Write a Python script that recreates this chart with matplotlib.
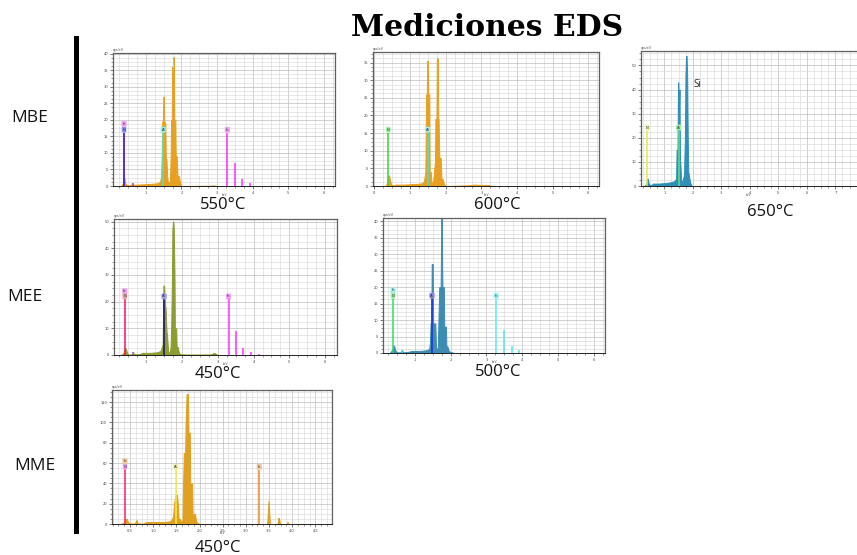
import matplotlib
matplotlib.use("Agg")
import matplotlib.pyplot as plt
from matplotlib.ticker import MultipleLocator, AutoMinorLocator, FormatStrFormatter

W, H = 857, 555

# ---- spectra (energy in keV, counts in cps/eV) ----
mbe550_e = [0.30, 0.36, 0.38, 0.40, 0.42, 0.46, 0.55, 0.60, 0.62, 0.64, 0.70, 0.90, 1.10, 1.30,
            1.40, 1.43, 1.45, 1.46, 1.48, 1.49, 1.51, 1.52, 1.55, 1.56, 1.58, 1.60, 1.62, 1.66,
            1.68, 1.70, 1.71, 1.73, 1.74, 1.76, 1.77, 1.78, 1.79, 1.80, 1.83, 1.84, 1.87, 1.89,
            1.93, 1.96, 2.00, 2.80, 2.90, 3.00]
mbe550_c = [0.0, 0.8, 2.7, 2.5, 1.0, 0.3, 0.2, 0.4, 1.0, 0.4, 0.4, 0.5, 0.6, 0.8,
            1.2, 3.0, 10.0, 19.5, 19.5, 27.0, 27.0, 19.5, 19.0, 9.0, 8.0, 3.0, 1.2, 1.0,
            2.0, 10.0, 20.0, 20.0, 36.0, 30.0, 20.0, 39.0, 36.0, 20.0, 20.0, 9.0, 9.0, 3.0,
            3.0, 1.0, 0.0, 0.1, 0.2, 0.0]

mbe600_e = [0.30, 0.36, 0.38, 0.41, 0.44, 0.48, 0.55, 0.60, 0.80, 1.00, 1.20, 1.35, 1.39,
            1.43, 1.45, 1.47, 1.48, 1.50, 1.51, 1.54, 1.55, 1.58, 1.60, 1.63, 1.65, 1.70,
            1.71, 1.74, 1.75, 1.76, 1.78, 1.79, 1.80, 1.82, 1.86, 1.88, 1.92, 1.95, 2.00,
            2.60, 2.80, 3.00, 3.20, 3.30]
mbe600_c = [0.0, 0.8, 3.0, 3.0, 1.5, 0.3, 0.2, 0.4, 0.4, 0.5, 0.6, 0.8, 1.5,
            4.0, 26.0, 26.0, 35.5, 35.5, 26.0, 26.0, 4.0, 4.0, 1.2, 0.8, 1.5, 7.0,
            19.0, 19.0, 36.0, 36.3, 36.0, 19.0, 19.0, 8.0, 8.0, 2.0, 2.0, 0.5, 0.0,
            0.2, 0.4, 0.3, 0.3, 0.0]

mbe650_e = [0.30, 0.37, 0.39, 0.42, 0.45, 0.50, 0.55, 0.60, 0.80, 1.00, 1.20, 1.35, 1.41,
            1.43, 1.46, 1.48, 1.49, 1.51, 1.53, 1.55, 1.56, 1.58, 1.61, 1.64, 1.69, 1.72,
            1.74, 1.76, 1.78, 1.80, 1.82, 1.84, 1.88, 1.92, 1.96]
mbe650_c = [0.0, 1.0, 3.0, 3.0, 1.0, 0.4, 0.4, 1.0, 1.0, 1.2, 1.5, 2.0, 3.0,
            15.0, 15.0, 43.0, 43.0, 30.0, 40.0, 10.0, 10.0, 4.0, 1.5, 2.0, 5.0, 20.0,
            46.0, 54.0, 54.0, 46.0, 20.0, 6.0, 3.0, 1.0, 0.0]

mee450_e = [0.30, 0.38, 0.40, 0.43, 0.46, 0.50, 0.60, 0.63, 0.66, 0.80, 0.90, 1.10, 1.30,
            1.40, 1.46, 1.48, 1.50, 1.53, 1.54, 1.57, 1.58, 1.61, 1.63, 1.66, 1.68, 1.70,
            1.72, 1.73, 1.75, 1.76, 1.77, 1.79, 1.80, 1.84, 1.85, 1.88, 1.91, 1.95, 2.10,
            2.80, 2.90, 3.00]
mee450_c = [0.0, 1.0, 2.5, 2.5, 1.0, 0.2, 0.2, 1.2, 0.3, 0.3, 0.8, 0.8, 1.0,
            1.5, 4.0, 26.0, 26.0, 18.0, 18.0, 8.0, 8.0, 2.0, 0.8, 1.0, 3.0, 12.0,
            30.0, 47.0, 50.0, 50.0, 47.0, 30.0, 10.0, 10.0, 3.0, 3.0, 1.0, 0.3, 0.2,
            0.2, 0.8, 0.0]

mee500_e = [0.30, 0.37, 0.39, 0.42, 0.45, 0.50, 0.60, 0.64, 0.67, 0.80, 0.90, 1.10, 1.30,
            1.40, 1.42, 1.44, 1.46, 1.47, 1.50, 1.51, 1.57, 1.59, 1.62, 1.64, 1.68, 1.72,
            1.73, 1.74, 1.75, 1.76, 1.77, 1.79, 1.81, 1.82, 1.87, 1.88, 1.91, 1.95, 2.10]
mee500_c = [0.0, 1.0, 2.2, 2.2, 0.8, 0.2, 0.2, 1.0, 0.2, 0.3, 0.6, 0.6, 0.8,
            1.2, 3.0, 9.0, 9.0, 27.0, 27.0, 9.0, 9.0, 2.0, 0.8, 1.5, 20.0, 20.0,
            30.0, 41.0, 41.0, 28.0, 20.0, 20.0, 20.0, 8.0, 8.0, 2.0, 2.0, 0.5, 0.0]

mme450_e = [0.30, 0.37, 0.40, 0.43, 0.46, 0.52, 0.60, 0.64, 0.67, 0.80, 0.85, 1.00, 1.20,
            1.35, 1.40, 1.43, 1.45, 1.48, 1.51, 1.53, 1.55, 1.58, 1.60, 1.63, 1.66, 1.69,
            1.70, 1.72, 1.75, 1.76, 1.79, 1.80, 1.84, 1.85, 1.90, 1.93, 2.00, 3.46, 3.49,
            3.52, 3.68, 3.71, 3.74, 3.80]
mme450_c = [0.0, 1.5, 5.0, 5.0, 1.5, 0.5, 0.5, 4.0, 0.5, 0.5, 2.0, 2.0, 2.0,
            2.5, 4.0, 8.0, 20.0, 29.0, 29.0, 20.0, 5.0, 5.0, 2.5, 3.0, 70.0, 70.0,
            100.0, 128.0, 128.0, 90.0, 90.0, 40.0, 40.0, 10.0, 10.0, 2.0, 0.0, 0.0, 23.0,
            0.0, 0.0, 6.0, 0.0, 0.0]

# ---- characteristic line markers: energy, height, colour ----
mbe550_lines = ([0.39, 0.39, 0.63, 1.49, 3.29, 3.49, 3.71, 3.92],
                [16, 16, 1, 16, 16, 7, 2, 1],
                ["#ff40ff", "#2a1fd0", "#a050d0", "#50e0c8", "#ff30ff", "#ff30ff", "#ff30ff", "#ff30ff"])
mbe600_lines = ([0.39, 1.49], [15, 15], ["#40d040", "#40e0e0"])
mbe650_lines = ([0.40, 1.50], [23, 23], ["#e8e840", "#60e080"])
mee450_lines = ([0.40, 0.63, 1.50, 3.30, 3.50, 3.71, 3.92, 4.16],
                [21, 1.2, 21, 21, 9, 2.5, 1, 0.5],
                ["#ff1060", "#b060d0", "#101080", "#ff30ff", "#ff30ff", "#ff30ff", "#ff30ff", "#ff30ff"])
mee500_lines = ([0.39, 0.65, 1.48, 3.27, 3.49, 3.71, 3.92],
                [16.6, 1, 18, 16.6, 7, 2, 1],
                ["#30e060", "#50e8e8", "#1830e0", "#60f0f0", "#50e8e8", "#50e8e8", "#50e8e8"])
mme450_lines = ([0.39, 1.49, 3.29, 3.71, 3.92],
                [54, 54, 53, 6, 2],
                ["#ff2070", "#f0f040", "#e88a30", "#e0a020", "#e0a020"])

# ---- element tags: text, energy, height, box colour ----
mbe550_tags = [("In", 0.39, 18.2, "#f0a0f0"), ("N", 0.39, 16.4, "#9090f0"),
               ("Al", 1.49, 16.4, "#90f0f0"), ("In", 3.29, 16.4, "#f0a0f0")]
mbe600_tags = [("N", 0.39, 15.4, "#a0f0a0"), ("Al", 1.49, 15.4, "#a0f0f0")]
mbe650_tags = [("N", 0.40, 23.4, "#f0f0a0"), ("Al", 1.50, 23.4, "#a0f0b0")]
mee450_tags = [("In", 0.40, 23.2, "#f0a0f0"), ("N", 0.40, 21.2, "#f0a0a0"),
               ("Al", 1.50, 21.2, "#a0a0f0"), ("In", 3.30, 21.2, "#f0a0f0")]
mee500_tags = [("In", 0.39, 18.4, "#a0f0f0"), ("N", 0.39, 16.8, "#a0f0a0"),
               ("Al", 1.48, 16.8, "#9090f0"), ("In", 3.27, 16.8, "#a0f0f0")]
mme450_tags = [("In", 0.39, 60, "#f0c8a0"), ("N", 0.39, 54.5, "#f0a0f0"),
               ("Al", 1.49, 54.5, "#f0f0a0"), ("In", 3.29, 54.5, "#f0c8a0")]

panels = [
    # rect (left, top, right, bottom px), spectrum, colour, lines, tags, xlim, ylim, xstep, ystep, caption, caption xy
    ((113, 53, 335, 186), mbe550_e, mbe550_c, "#e8a020", mbe550_lines, mbe550_tags,
     (0.08, 6.31), (0, 40.2), 1, 5, "550°C", (223, 205)),
    ((373, 52, 599, 186), mbe600_e, mbe600_c, "#e8a020", mbe600_lines, mbe600_tags,
     (-0.04, 6.3), (0, 38), 1, 5, "600°C", (497, 205)),
    ((641, 51, 857, 186), mbe650_e, mbe650_c, "#2f8fb8", mbe650_lines, mbe650_tags,
     (0.18, 7.76), (0, 56), 1, 10, "650°C", (770, 212)),
    ((114, 219, 337, 355), mee450_e, mee450_c, "#8c9c30", mee450_lines, mee450_tags,
     (0.10, 6.33), (0, 51), 1, 10, "450°C", (218, 374)),
    ((383, 218, 605, 353), mee500_e, mee500_c, "#3c8cb4", mee500_lines, mee500_tags,
     (0.11, 6.31), (0, 41), 1, 5, "500°C", (498, 372)),
    ((112, 390, 332, 524), mme450_e, mme450_c, "#e0a020", mme450_lines, mme450_tags,
     (0.11, 4.86), (0, 132), 0.5, 20, "450°C", (218, 548)),
]

fig = plt.figure(figsize=(W / 100, H / 100), dpi=100)
fig.patch.set_facecolor("white")

for (rect, e, c, col, lines, tags, xl, yl, xs, ys, cap, capxy) in panels:
    l, t, r, b = rect
    ax = fig.add_axes([l / W, 1 - b / H, (r - l) / W, (b - t) / H])
    ax.set_xlim(*xl)
    ax.set_ylim(*yl)
    ax.xaxis.set_major_locator(MultipleLocator(xs))
    ax.xaxis.set_minor_locator(AutoMinorLocator(4))
    ax.yaxis.set_major_locator(MultipleLocator(ys))
    ax.yaxis.set_minor_locator(AutoMinorLocator(4))
    if xs < 1:
        ax.xaxis.set_major_formatter(FormatStrFormatter("%.1f"))
    ax.grid(True, which="major", color="#bcbcbc", lw=0.5)
    ax.grid(True, which="minor", color="#dadada", lw=0.45)
    ax.set_axisbelow(True)
    ax.tick_params(which="major", labelsize=2.6, length=2, width=0.5, pad=1.5, colors="#444444")
    ax.tick_params(which="minor", length=1.2, width=0.4, colors="#444444")
    for side in ("top", "right", "left"):
        ax.spines[side].set_color("#606060")
        ax.spines[side].set_linewidth(0.9)
    ax.spines["bottom"].set_color("#222222")
    ax.spines["bottom"].set_linewidth(0.7)
    if r >= W:
        ax.spines["right"].set_visible(False)

    ax.fill_between(e, c, 0, color=col, lw=0.7, ec=col)
    le, lh, lc = lines
    ax.vlines(le, 0, lh, colors=lc, lw=1.1)
    for txt, x, y, fc in tags:
        ax.text(x, y, txt, fontsize=2.6, ha="center", va="bottom", color="#303030",
                bbox=dict(boxstyle="round,pad=0.25", fc=fc, ec="none"))
    ax.text(0.0, 1.005, "cps/eV", transform=ax.transAxes, fontsize=2.4,
            ha="left", va="bottom", color="#555555")
    ax.text(0.5, -0.055, "keV", transform=ax.transAxes, fontsize=2.2,
            ha="center", va="top", color="#555555")
    if cap == "650°C":
        ax.text(2.03, 42, "Si", fontsize=7, ha="left", va="center", color="#222222",
                family="Open Sans")
    fig.text(capxy[0] / W, 1 - capxy[1] / H, cap, fontsize=12, ha="center", va="center",
             family="Open Sans", color="#111111")

# row labels and separator
for lab, x, y in [("MBE", 30, 118), ("MEE", 25, 297), ("MME", 35, 466)]:
    fig.text(x / W, 1 - y / H, lab, fontsize=12.5, ha="center", va="center",
             family="Open Sans", color="#111111")
fig.add_artist(plt.Line2D([76 / W, 76 / W], [1 - 38 / H, 1 - 531 / H], color="black",
                          lw=3.6, transform=fig.transFigure))

fig.text(487 / W, 1 - 27 / H, "Mediciones EDS", fontsize=21.5, fontweight="bold",
         family="DejaVu Serif", ha="center", va="center", color="black")

fig.savefig("out.png", dpi=100)
